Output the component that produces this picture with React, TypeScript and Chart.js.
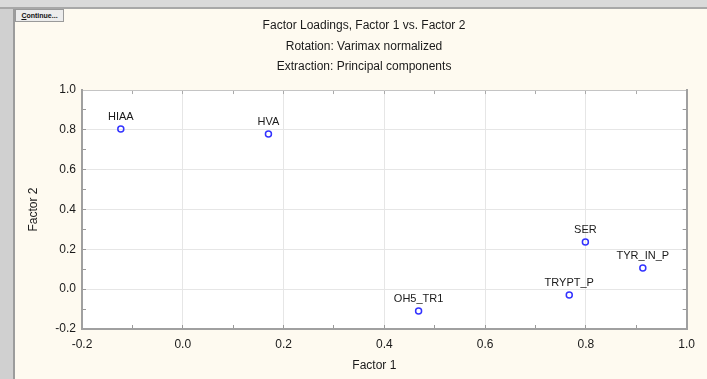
import React, { useEffect, useRef } from "react";
import { Chart, registerables } from "chart.js";

Chart.register(...registerables);

const variableNames = ["HIAA", "HVA", "OH5_TR1", "TRYPT_P", "SER", "TYR_IN_P"];
const factor1 = [-0.123, 0.17, 0.468, 0.767, 0.799, 0.913];
const factor2 = [0.804, 0.779, -0.109, -0.029, 0.237, 0.106];
const titleLines = [
  "Factor Loadings, Factor 1 vs. Factor 2",
  "Rotation: Varimax normalized",
  "Extraction: Principal components",
];
const axisMin = -0.2;
const axisMax = 1.0;

const FONT = "'Liberation Sans', Arial, sans-serif";

const frame = {
  id: "frame",
  beforeDraw(chart: any) {
    const { ctx, width, height, chartArea } = chart;
    ctx.save();
    ctx.fillStyle = "#fefaf0";
    ctx.fillRect(0, 0, width, height);
    ctx.fillStyle = "#d0d0d0";
    ctx.fillRect(0, 0, 13, height);
    ctx.fillStyle = "#9c9c9c";
    ctx.fillRect(13, 0, 2, height);
    ctx.fillStyle = "#dadada";
    ctx.fillRect(0, 0, width, 7);
    ctx.fillStyle = "#a8a8a8";
    ctx.fillRect(0, 7, width, 2);
    ctx.fillStyle = "#ffffff";
    ctx.fillRect(chartArea.left, chartArea.top, chartArea.right - chartArea.left, chartArea.bottom - chartArea.top);
    ctx.restore();
  },
};

const pointLabels = {
  id: "pointLabels",
  afterDatasetsDraw(chart: any) {
    const { ctx } = chart;
    const meta = chart.getDatasetMeta(0);
    ctx.save();
    ctx.font = `11px ${FONT}`;
    ctx.fillStyle = "#1a1a1a";
    ctx.textAlign = "center";
    ctx.textBaseline = "middle";
    meta.data.forEach((el: any, i: number) => {
      ctx.fillText(variableNames[i], el.x, el.y - 12);
    });
    ctx.restore();
  },
};

const isMajor = (v: number) => Math.round((v - axisMin) * 10) % 2 === 0;

const majorOnly = (ctx: any) => {
  const v = ctx.tick ? ctx.tick.value : 0;
  return isMajor(v) ? "#e6e6e6" : "rgba(0,0,0,0)";
};

const tickLabel = (v: any) => {
  const n = Number(v);
  if (!isMajor(n)) return "";
  const r = Math.abs(n) < 1e-9 ? 0 : n;
  return r.toFixed(1);
};

export default function App() {
  const ref = useRef<HTMLCanvasElement | null>(null);

  useEffect(() => {
    if (!ref.current) return;
    const chart = new Chart(ref.current, {
      type: "scatter",
      data: {
        datasets: [
          {
            data: factor1.map((x, i) => ({ x, y: factor2[i] })),
            pointStyle: "circle",
            pointRadius: 3,
            pointBorderWidth: 1.5,
            borderColor: "#3333ff",
            backgroundColor: "rgba(255,255,255,0)",
            pointHoverRadius: 3,
          },
        ],
      },
      plugins: [frame, pointLabels],
      options: {
        animation: false,
        responsive: false,
        layout: { padding: { left: 21, right: 0, top: 9, bottom: 0 } },
        plugins: {
          legend: { display: false },
          tooltip: { enabled: false },
          title: {
            display: true,
            text: titleLines,
            color: "#1a1a1a",
            font: { family: FONT, size: 12, weight: "normal", lineHeight: 1.71 },
            padding: { top: 6.75, bottom: 12.75 },
          },
        },
        scales: {
          x: {
            type: "linear",
            position: "bottom",
            min: axisMin,
            max: axisMax,
            afterFit: (s: any) => {
              s.height = 50;
            },
            ticks: {
              stepSize: 0.1,
              autoSkip: false,
              maxRotation: 0,
              padding: 12,
              color: "#1a1a1a",
              font: { family: FONT, size: 12 },
              callback: tickLabel,
            },
            grid: { color: majorOnly, tickColor: "#999999", tickLength: -4, drawTicks: true },
            border: { color: "#a0a0a0", width: 2 },
            title: {
              display: true,
              text: "Factor 1      ",
              color: "#1a1a1a",
              font: { family: FONT, size: 12 },
              padding: { top: 0, bottom: 6 },
            },
          },
          x2: {
            type: "linear",
            position: "top",
            min: axisMin,
            max: axisMax,
            afterFit: (s: any) => {
              s.height = 0;
            },
            ticks: { stepSize: 0.1, display: false },
            grid: { drawOnChartArea: false, tickColor: "#aaaaaa", tickLength: -4 },
            border: { color: "#c4c4c4", width: 1 },
          },
          y: {
            type: "linear",
            position: "left",
            min: axisMin,
            max: axisMax,
            afterFit: (s: any) => {
              s.width = 61;
            },
            ticks: {
              stepSize: 0.1,
              autoSkip: false,
              padding: 10,
              color: "#1a1a1a",
              font: { family: FONT, size: 12 },
              callback: tickLabel,
            },
            grid: { color: majorOnly, tickColor: "#999999", tickLength: -4, drawTicks: true },
            border: { color: "#a0a0a0", width: 2 },
            title: {
              display: true,
              text: "Factor 2",
              color: "#1a1a1a",
              font: { family: FONT, size: 12 },
              padding: { top: 5, bottom: 0 },
            },
          },
          y2: {
            type: "linear",
            position: "right",
            min: axisMin,
            max: axisMax,
            afterFit: (s: any) => {
              s.width = 18;
            },
            ticks: { stepSize: 0.1, display: false },
            grid: { drawOnChartArea: false, tickColor: "#999999", tickLength: -4 },
            border: { color: "#a0a0a0", width: 2 },
          },
        },
      } as any,
    });
    return () => chart.destroy();
  }, []);

  return (
    <div style={{ position: "fixed", left: 0, top: 0, width: 707, height: 379 }}>
      <canvas ref={ref} width={707} height={379} style={{ display: "block", width: 707, height: 379 }} />
      <div
        style={{
          position: "absolute",
          left: 15,
          top: 9,
          width: 47,
          height: 11,
          border: "1px solid #9a9a9a",
          background: "#ececec",
          fontFamily: FONT,
          fontSize: 7,
          fontWeight: "bold",
          lineHeight: "11px",
          textAlign: "center",
          color: "#111",
          boxSizing: "content-box",
        }}
      >
        <span style={{ textDecoration: "underline" }}>C</span>ontinue...
      </div>
    </div>
  );
}
